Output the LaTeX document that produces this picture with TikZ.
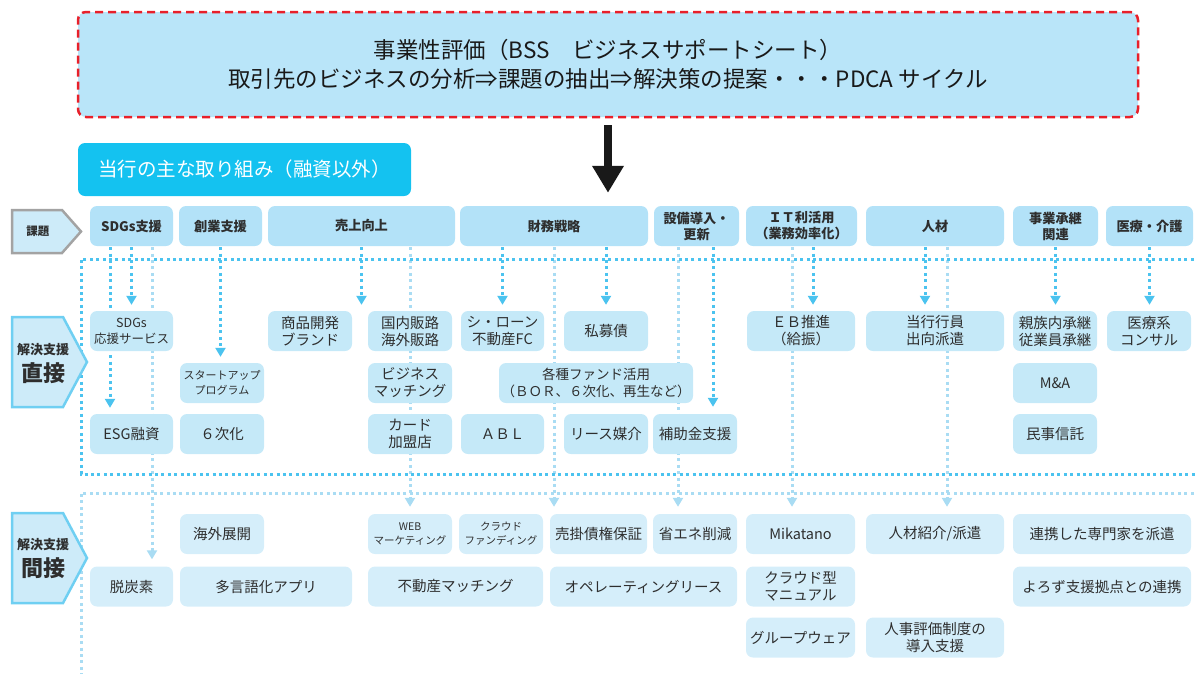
\documentclass[tikz,border=0pt]{standalone}
\usepackage{fontspec}
\setmainfont{Noto Sans CJK JP}
\usetikzlibrary{arrows.meta,backgrounds}
\definecolor{inktext}{HTML}{2E2E2E}
\definecolor{bannerblue}{HTML}{B9E5F9}
\definecolor{bannerred}{HTML}{E8202A}
\definecolor{titlecyan}{HTML}{14C2F0}
\definecolor{headblue}{HTML}{B3E2F8}
\definecolor{directblue}{HTML}{C5E9F8}
\definecolor{indirectblue}{HTML}{D5EEFA}
\definecolor{linkblue}{HTML}{4BC3EF}
\definecolor{paleblue}{HTML}{A9DCF3}
\definecolor{tagblue}{HTML}{CDEBF9}
\definecolor{taggray}{HTML}{A3A3A3}

\begin{document}
\begin{tikzpicture}[x=1pt,y=-1pt,
  every node/.style={text=inktext},
  head node/.style={rectangle,rounded corners=7pt,fill=headblue,minimum height=40pt,inner sep=1pt,align=center,font={\fontsize{13.2pt}{16pt}\selectfont\bfseries}},
  direct node/.style={rectangle,rounded corners=7pt,fill=directblue,minimum height=40pt,inner sep=1pt,align=center,font={\fontsize{14.5pt}{17pt}\selectfont}},
  indirect node/.style={direct node,fill=indirectblue},
  small text/.style={font={\fontsize{11pt}{15pt}\selectfont}},
  link/.style={draw=linkblue,line width=3pt,dash pattern=on 3pt off 3.4pt,shorten <=1pt,shorten >=6pt,-{Triangle[width=10pt,length=9pt]}},
  pale link/.style={link,draw=paleblue,shorten >=7pt},
  frame/.style={draw=linkblue,line width=3pt,dash pattern=on 3pt off 3.4pt},
  tag/.style={fill=tagblue,draw=linkblue!80,line width=2.5pt,line join=miter}]

  \path[use as bounding box,clip] (0,0) rectangle (1195,673);

  % dotted frames
  \draw[frame] (1200,259) -- (81,259) -- (81,474) -- (1200,474);
  \draw[frame,draw=paleblue] (1200,493) -- (81,493) -- (81,690);

  % top
  \node[draw=bannerred,line width=2.5pt,dash pattern=on 8pt off 5pt,fill=bannerblue,rounded corners=8pt,
    minimum width=1060pt,minimum height=105pt,align=center,text=black!90,
    font={\fontsize{22.5pt}{29.5pt}\selectfont}] (bss) at (608,64.5)
    {事業性評価（BSS　ビジネスサポートシート）\\取引先のビジネスの分析⇒課題の抽出⇒解決策の提案・・・PDCA サイクル};
  \node[fill=titlecyan,rounded corners=7pt,minimum width=333pt,minimum height=53pt,text=white,
    font={\fontsize{19.5pt}{22pt}\selectfont}] (torikumi) at (244.5,169.5) {当行の主な取り組み（融資以外）};

  % tags
  \draw[tag,draw=taggray] (12,210) -- (62,210) -- (81,231.5) -- (62,253) -- (12,253) -- cycle;
  \node[font={\fontsize{11.5pt}{12pt}\selectfont\bfseries}] (kadai) at (38,231.5) {課題};
  \draw[tag] (12,317) -- (63,317) -- (87,362) -- (63,407) -- (12,407) -- cycle;
  \node[font={\fontsize{13pt}{14pt}\selectfont\bfseries}] (kaiketsu1) at (43,350) {解決支援};
  \node[font={\fontsize{22pt}{24pt}\selectfont\bfseries}] (chokusetsu) at (43,373) {直接};
  \draw[tag] (12,513) -- (63,513) -- (87,558) -- (63,603) -- (12,603) -- cycle;
  \node[font={\fontsize{13pt}{14pt}\selectfont\bfseries}] (kaiketsu2) at (43,545) {解決支援};
  \node[font={\fontsize{22pt}{24pt}\selectfont\bfseries}] (kansetsu) at (43,568) {間接};

  % headers
  \node[head node,minimum width=83pt] (h-sdgs) at (131.5,226) {SDGs支援};
  \node[head node,minimum width=83pt] (h-sogyo) at (220.5,226) {創業支援};
  \node[head node,minimum width=187pt] (h-uriage) at (361.5,226) {売上向上};
  \node[head node,minimum width=188pt] (h-zaimu) at (554,226) {財務戦略};
  \node[head node,minimum width=85pt] (h-setsubi) at (696.5,226) {設備導入・\\更新};
  \node[head node,minimum width=111pt] (h-it) at (801.5,226) {ＩＴ利活用\\（業務効率化）};
  \node[head node,minimum width=138pt] (h-jinzai) at (935,226) {人材};
  \node[head node,minimum width=85pt] (h-shokei) at (1055.5,226) {事業承継\\関連};
  \node[head node,minimum width=87pt] (h-iryo) at (1149.5,226) {医療・介護};

  % direct
  \node[direct node,minimum width=83pt,font={\fontsize{12.5pt}{16pt}\selectfont}] (d-sdgs) at (131.5,331) {SDGs\\応援サービス};
  \node[direct node,minimum width=83pt] (d-esg) at (131.5,434) {ESG融資};
  \node[direct node,minimum width=84pt,small text] (d-startup) at (222,383) {スタートアップ\\プログラム};
  \node[direct node,minimum width=84pt] (d-roku) at (222,434) {６次化};
  \node[direct node,minimum width=84pt] (d-shohin) at (310,331) {商品開発\\ブランド};
  \node[direct node,minimum width=84pt] (d-hanro) at (410,331) {国内販路\\海外販路};
  \node[direct node,minimum width=84pt] (d-matching) at (410,383) {ビジネス\\マッチング};
  \node[direct node,minimum width=84pt] (d-card) at (410,434) {カード\\加盟店};
  \node[direct node,minimum width=83pt] (d-loan) at (502.5,331) {シ・ローン\\不動産FC};
  \node[direct node,minimum width=84pt] (d-shibo) at (606,331) {私募債};
  \node[direct node,minimum width=194pt,font={\fontsize{13.5pt}{17pt}\selectfont}] (d-fund) at (596,383) {各種ファンド活用\\（ＢＯＲ、６次化、再生など）};
  \node[direct node,minimum width=83pt] (d-abl) at (502.5,434) {ＡＢＬ};
  \node[direct node,minimum width=84pt] (d-lease) at (606,434) {リース媒介};
  \node[direct node,minimum width=84pt] (d-hojo) at (695,434) {補助金支援};
  \node[direct node,minimum width=108pt] (d-eb) at (801,331) {ＥＢ推進\\（給振）};
  \node[direct node,minimum width=138pt] (d-shukko) at (935,331) {当行行員\\出向派遣};
  \node[direct node,minimum width=84pt] (d-shinzoku) at (1055,331) {親族内承継\\従業員承継};
  \node[direct node,minimum width=84pt] (d-ma) at (1055,383) {M\&A};
  \node[direct node,minimum width=84pt] (d-shintaku) at (1055,434) {民事信託};
  \node[direct node,minimum width=84pt] (d-iryo) at (1149,331) {医療系\\コンサル};

  % indirect
  \node[indirect node,minimum width=84pt] (i-kaigai) at (222,534) {海外展開};
  \node[indirect node,minimum width=83pt] (i-datsu) at (131.5,586.5) {脱炭素};
  \node[indirect node,minimum width=172pt] (i-tagengo) at (266,586.5) {多言語化アプリ};
  \node[indirect node,minimum width=84pt,font={\fontsize{10.5pt}{14pt}\selectfont}] (i-web) at (410,534) {WEB\\マーケティング};
  \node[indirect node,minimum width=84pt,font={\fontsize{10.5pt}{14pt}\selectfont}] (i-crowd) at (501,534) {クラウド\\ファンディング};
  \node[indirect node,minimum width=97pt] (i-urikake) at (598.5,534) {売掛債権保証};
  \node[indirect node,minimum width=84pt] (i-shoene) at (695,534) {省エネ削減};
  \node[indirect node,minimum width=175pt] (i-fudosan) at (455.5,586.5) {不動産マッチング};
  \node[indirect node,minimum width=187pt] (i-ope) at (643.5,586.5) {オペレーティングリース};
  \node[indirect node,minimum width=109pt] (i-mikatano) at (800.5,534) {Mikatano};
  \node[indirect node,minimum width=109pt] (i-manual) at (800.5,586.5) {クラウド型\\マニュアル};
  \node[indirect node,minimum width=109pt] (i-group) at (800.5,637.5) {グループウェア};
  \node[indirect node,minimum width=138pt] (i-haken) at (935,534) {人材紹介/派遣};
  \node[indirect node,minimum width=138pt] (i-hyoka) at (935,637.5) {人事評価制度の\\導入支援};
  \node[indirect node,minimum width=178pt] (i-senmon) at (1102,534) {連携した専門家を派遣};
  \node[indirect node,minimum width=178pt] (i-yorozu) at (1102,586.5) {よろず支援拠点との連携};

  \draw[line width=8pt,draw=black!90,-{Triangle[width=30pt,length=27pt]},shorten <=7pt,shorten >=13pt]
    (bss.south) -- (bss.south |- h-zaimu.north);

  \begin{scope}[on background layer]
    \draw[link,-,shorten >=3pt] ([xshift=-21.5pt]h-sdgs.south) -- ([xshift=-21.5pt]d-sdgs.north);
    \draw[link,shorten <=4pt] ([xshift=-21.5pt]d-sdgs.south) -- ([xshift=-21.5pt]d-esg.north);
    \draw[link] (h-sdgs.south) -- (d-sdgs.north);
    \draw[link] (h-sogyo.south) -- (h-sogyo.south |- d-startup.north);
    \draw[link] (h-uriage.south) -- (h-uriage.south |- d-shohin.north);
    \draw[link] (d-loan.north |- h-zaimu.south) -- (d-loan.north);
    \draw[link] (d-shibo.north |- h-zaimu.south) -- (d-shibo.north);
    \draw[link,shorten >=7pt] ([xshift=16.5pt]h-setsubi.south) -- ([xshift=16.5pt]h-setsubi.south |- d-hojo.north);
    \draw[link] ([xshift=11.5pt]h-it.south) -- ([xshift=11.5pt]h-it.south |- d-eb.north);
    \draw[link] ([xshift=-10pt]h-jinzai.south) -- ([xshift=-10pt]h-jinzai.south |- d-shukko.north);
    \draw[link] (h-shokei.south) -- (h-shokei.south |- d-shinzoku.north);
    \draw[link] (h-iryo.south) -- (h-iryo.south |- d-iryo.north);
    % through links
    \draw[pale link] ([xshift=20.5pt]h-sdgs.south) -- ([xshift=20.5pt]h-sdgs.south |- i-datsu.north);
    \draw[pale link] (i-web.north |- h-uriage.south) -- (i-web.north);
    \draw[pale link] (h-zaimu.south) -- (h-zaimu.south |- i-urikake.north);
    \draw[pale link] ([xshift=-18.5pt]h-setsubi.south) -- ([xshift=-18.5pt]h-setsubi.south |- i-shoene.north);
    \draw[pale link] ([xshift=-9.5pt]h-it.south) -- ([xshift=-9.5pt]h-it.south |- i-mikatano.north);
    \draw[pale link] ([xshift=12pt]h-jinzai.south) -- ([xshift=12pt]h-jinzai.south |- i-haken.north);
  \end{scope}
\end{tikzpicture}
\end{document}
